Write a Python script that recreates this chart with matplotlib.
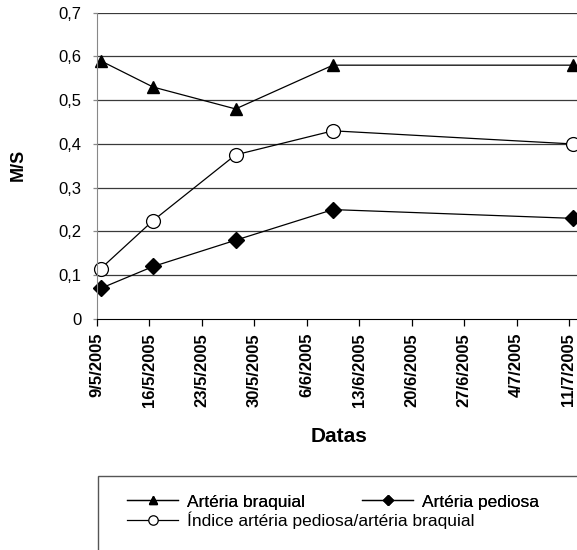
import datetime as dt

import matplotlib

matplotlib.use("Agg")
import matplotlib.pyplot as plt
import matplotlib.dates as mdates
from matplotlib.patches import Rectangle

plt.rcParams["font.family"] = ["Liberation Sans", "DejaVu Sans"]

# dados
datas = [dt.date(2005, 5, 9), dt.date(2005, 5, 16), dt.date(2005, 5, 27),
         dt.date(2005, 6, 9), dt.date(2005, 7, 11)]
braquial = [0.59, 0.53, 0.48, 0.58, 0.58]
pediosa = [0.07, 0.12, 0.18, 0.25, 0.23]
indice = [0.115, 0.225, 0.375, 0.43, 0.40]

inicio = dt.date(2005, 5, 9)
ticks_x = [inicio + dt.timedelta(days=7 * k) for k in range(10)]
ticks_y = [0, 0.1, 0.2, 0.3, 0.4, 0.5, 0.6, 0.7]

fig = plt.figure(figsize=(5.77, 5.5), dpi=100)
ax = fig.add_axes([0.168, 0.42, 0.835, 0.557])

# Excel poe os pontos no meio do dia
xs = [mdates.date2num(d) + 0.5 for d in datas]

for y in ticks_y[1:]:
    ax.axhline(y, color="#3a3a3a", lw=0.9, zorder=0)

l1, = ax.plot(xs, braquial, color="black", lw=0.9, marker="^", ms=9,
              mfc="black", mec="black", clip_on=False)
l2, = ax.plot(xs, pediosa, color="black", lw=0.9, marker="D", ms=8,
              mfc="black", mec="black", clip_on=False)
l3, = ax.plot(xs, indice, color="black", lw=0.9, marker="o", ms=10,
              mfc="white", mec="black", mew=0.9, clip_on=False)

x0 = mdates.date2num(inicio)
ax.set_xlim(x0, x0 + 64.3)
ax.set_ylim(0, 0.7)
ax.set_xticks([mdates.date2num(d) for d in ticks_x])
ax.set_xticklabels([f"{d.day}/{d.month}/{d.year}" for d in ticks_x],
                   rotation=90, fontsize=12, fontweight="bold")
ax.set_yticks(ticks_y)
ax.set_yticklabels(["0"] + [f"{v:.1f}".replace(".", ",") for v in ticks_y[1:]],
                   fontsize=12)

for s in ["top", "right"]:
    ax.spines[s].set_visible(False)
ax.spines["left"].set_color("#888888")
ax.spines["bottom"].set_color("black")
ax.tick_params(axis="x", direction="out", length=5, width=0.9, pad=5)
ax.tick_params(axis="y", direction="out", length=3, width=0.9, color="#888888", pad=8)

fig.text(18 / 577, 1 - 165 / 550, "M/S", fontsize=13, fontweight="bold",
         rotation=90, ha="center", va="center")
fig.text(339 / 577, 1 - 436 / 550, "Datas", fontsize=15, fontweight="bold",
         ha="center", va="center")

# caixa da legenda (cortada pela borda da figura)
fig.patches.append(Rectangle((98 / 577, -0.05), 1.0, 1 - 476 / 550 + 0.05,
                             transform=fig.transFigure, fill=False,
                             edgecolor="#555555", lw=1.0))
kw = dict(loc="center left", frameon=False, fontsize=12.5, handlelength=2.95,
          handletextpad=0.5, borderpad=0.0, markerscale=0.68, borderaxespad=0.0)
leg1 = fig.legend([l1, l2], ["Artéria braquial", "Artéria pediosa"], ncol=2,
                  columnspacing=3.3, bbox_to_anchor=(127 / 577, 1 - 502 / 550), **kw)
fig.add_artist(leg1)
fig.legend([l3], ["Índice artéria pediosa/artéria braquial"],
           bbox_to_anchor=(127 / 577, 1 - 520 / 550), **kw)

fig.savefig("out.png", dpi=100)
